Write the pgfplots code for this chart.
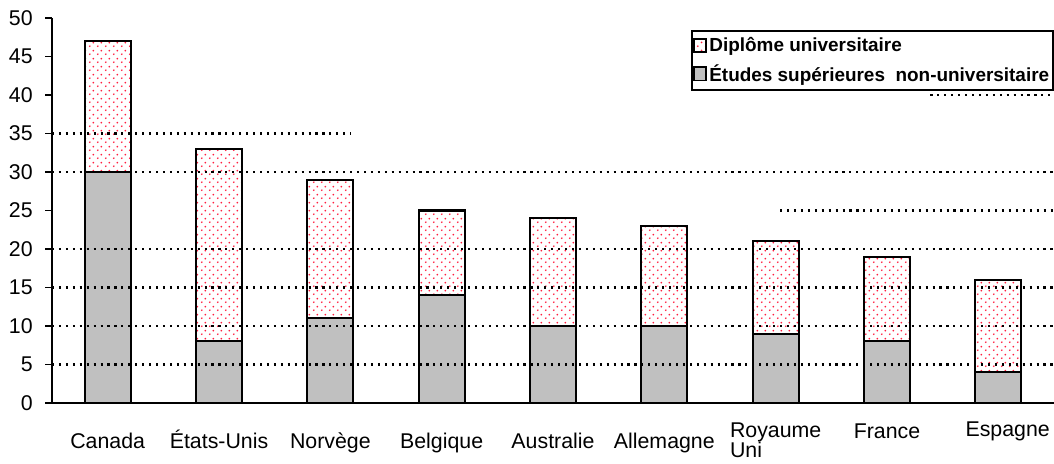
\documentclass[border=0pt]{standalone}
\usepackage{fontspec}
\setmainfont{Liberation Sans}
\usepackage{pgfplots}
\usepackage{pgfplotstable}
\pgfplotsset{compat=1.18}
\usetikzlibrary{patterns}
\pgfdeclarepatternformonly{pinkdots}{\pgfqpoint{0pt}{0pt}}{\pgfqpoint{6pt}{6pt}}{\pgfqpoint{6pt}{6pt}}{%
  \pgfpathcircle{\pgfqpoint{1.5pt}{1.5pt}}{0.8pt}%
  \pgfpathcircle{\pgfqpoint{4.5pt}{4.5pt}}{0.8pt}%
  \pgfusepath{fill}}
\definecolor{barGrey}{HTML}{C0C0C0}
\definecolor{dotRed}{HTML}{FF2040}

\pgfplotstableread{
x grey dip
0 30 17
1 8 25
2 11 18
3 14 11
4 10 14
5 10 13
6 9 12
7 8 11
8 4 12
}\data

\begin{document}
\begin{tikzpicture}[x=1pt,y=1pt]
\tikzset{gridl/.style={black, line width=1.6pt, dash pattern=on 1.6pt off 3.6pt}}
\begin{axis}[
  scale only axis,
  width=751.5pt, height=288.75pt,
  ybar stacked,
  bar width=34.5pt,
  xmin=-0.5, xmax=8.5,
  ymin=0, ymax=50,
  axis x line=bottom, axis y line=left,
  axis line style={-, line width=1.3pt},
  xtick={0,...,8},
  xticklabels={Canada,{\'Etats-Unis},Norvège,Belgique,Australie,Allemagne,
    {\raisebox{8pt}[11.5pt][\depth]{\begin{tabular}[t]{@{}l@{}}Royaume\\[-0.5pt]Uni\end{tabular}}},
    {\raisebox{7.5pt}[11.5pt][\depth]{France}},
    {\hspace*{14pt}\raisebox{9pt}[11.5pt][\depth]{Espagne}}},
  x tick style={draw=none},
  xticklabel style={anchor=north, yshift=-14pt, text height=11.5pt, font=\fontsize{16}{12}\selectfont},
  extra x ticks={-0.5,0.5,...,8.5},
  extra x tick labels={},
  extra x tick style={tick style={draw=black, line width=1.3pt}, tick align=outside, major tick length=5pt},
  ytick={0,5,...,50},
  y tick style={black, line width=1.3pt},
  tick align=outside,
  major tick length=5pt,
  yticklabel style={font=\fontsize{16}{12}\selectfont, xshift=-6pt},
  /pgf/number format/assume math mode=true,
  reverse legend,
  legend style={at={(1,1)}, anchor=north east, yshift=-9pt, draw=black, line width=1.2pt,
    font=\bfseries\fontsize{14.2}{15}\selectfont, inner xsep=1pt, inner ysep=3pt,
    row sep=4pt, cells={anchor=west}},
  legend image code/.code={\draw[#1, line width=1.1pt] (0pt,-5pt) rectangle (9pt,5pt);},
]
\pgfplotsinvokeforeach{5,10,15,20,30}{\draw[gridl] (axis cs:-0.5,#1) -- (axis cs:8.5,#1);}
\draw[gridl] (axis cs:6.04,25) -- (axis cs:8.5,25);
\draw[gridl] (axis cs:-0.5,35) -- (axis cs:2.18,35);
\draw[gridl] (axis cs:7.39,40) -- (axis cs:8.5,40);
\addplot[fill=barGrey, draw=black, line width=1.6pt] table[x=x, y=grey] {\data};
\addlegendentry{\'Etudes supérieures\ \ non-universitaire}
\addplot[fill=white, draw=black, line width=1.6pt, postaction={pattern=pinkdots, pattern color=dotRed}] table[x=x, y=dip] {\data};
\addlegendentry{Diplôme universitaire}
\end{axis}
\pgfresetboundingbox
\path[use as bounding box] (-39pt,-45.75pt) rectangle (751.5pt,302.25pt);
\end{tikzpicture}
\end{document}
